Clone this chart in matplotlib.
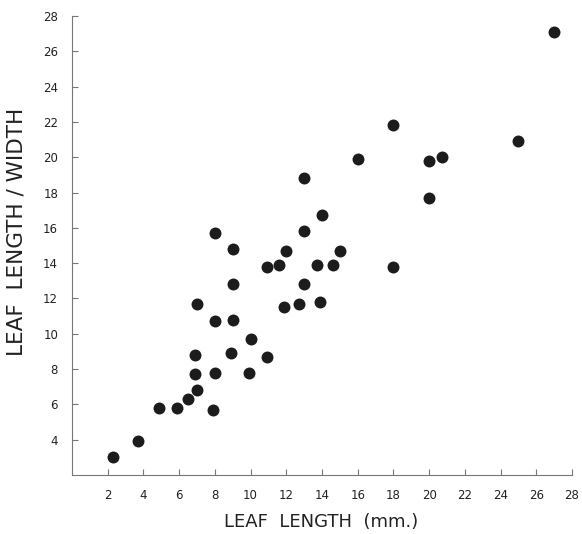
import matplotlib

matplotlib.use("Agg")
import matplotlib.pyplot as plt

# leaf length (mm) vs leaf length/width ratio
leaf_length = [2.3, 3.7, 4.9, 5.9, 6.5, 7.0, 7.9, 6.9, 8.0, 9.9,
               6.9, 8.9, 10.9, 10.0, 8.0, 9.0, 7.0, 11.9, 12.7, 13.9,
               9.0, 13.0, 10.9, 11.6, 13.7, 14.6, 18.0, 9.0, 12.0, 15.0,
               8.0, 13.0, 14.0, 20.0, 13.0, 16.0, 20.0, 20.7, 18.0, 25.0,
               27.0]
length_width = [3.0, 3.9, 5.8, 5.8, 6.3, 6.8, 5.7, 7.7, 7.8, 7.8,
                8.8, 8.9, 8.7, 9.7, 10.7, 10.8, 11.7, 11.5, 11.7, 11.8,
                12.8, 12.8, 13.8, 13.9, 13.9, 13.9, 13.8, 14.8, 14.7, 14.7,
                15.7, 15.8, 16.7, 17.7, 18.8, 19.9, 19.8, 20.0, 21.8, 20.9,
                27.1]

x_ticks = list(range(2, 29, 2))
y_ticks = list(range(4, 29, 2))

INK = "#222222"
AXIS = "#777777"

fig = plt.figure(figsize=(5.82, 5.34), dpi=100)
ax = fig.add_axes([0.1237, 0.1105, 0.859, 0.8596])

ax.plot(leaf_length, length_width, "o", color="#1c1c1c", markersize=8.6,
        markeredgewidth=0)

ax.set_xlim(0, 28)
ax.set_ylim(2, 28)
ax.set_xticks(x_ticks)
ax.set_yticks(y_ticks)

for side in ("top", "right"):
    ax.spines[side].set_visible(False)
for side in ("left", "bottom"):
    ax.spines[side].set_color(AXIS)
    ax.spines[side].set_linewidth(0.8)

ax.tick_params(direction="in", length=4, width=0.8, color=AXIS,
               labelsize=8.5, labelcolor=INK)
ax.tick_params(axis="x", pad=10)
ax.tick_params(axis="y", pad=10)

ax.set_xlabel("LEAF  LENGTH  (mm.)", fontsize=13, color=INK)
ax.set_ylabel("LEAF  LENGTH / WIDTH", fontsize=15.5, color=INK)
ax.xaxis.set_label_coords(0.498, -0.083)
ax.yaxis.set_label_coords(-0.09, 0.53)

fig.savefig("out.png", dpi=100)
